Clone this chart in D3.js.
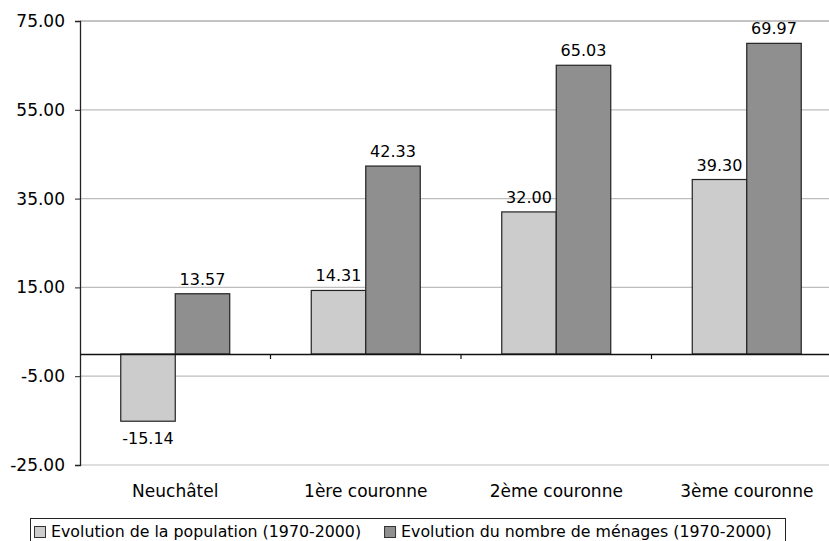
<!DOCTYPE html>
<html><head><meta charset="utf-8">
<script src="https://cdn.jsdelivr.net/npm/d3@7"></script>
<style>body{margin:0;background:#fff}svg{display:block}text{font-family:"DejaVu Sans",Verdana,sans-serif;fill:#000}</style>
</head><body><svg id="c" width="829" height="541"></svg>
<script>
const categories = ["Neuchâtel", "1ère couronne", "2ème couronne", "3ème couronne"];
const seriesNames = ["Evolution de la population (1970-2000)", "Evolution du nombre de ménages (1970-2000)"];
const population = [-15.14, 14.31, 32.00, 39.30];
const menages = [13.57, 42.33, 65.03, 69.97];
const yTicks = [75, 55, 35, 15, -5, -25];
const colors = ["#cccccc", "#8f8f8f"];

(function () {
const svg = d3.select("#c");
const pLeft = 80, pRight = 842, pTop = 21, pBottom = 465;
const x = d3.scaleBand().domain(categories).range([pLeft, pRight]).paddingInner(0).paddingOuter(0);
const y = d3.scaleLinear().domain([-25, 75]).range([pBottom, pTop]);
const inner = d3.scaleBand().domain([0, 1]).range([0, x.bandwidth()]).paddingInner(0).paddingOuter(0.748);

// gridlines
svg.append("g").selectAll("line").data(yTicks).join("line")
  .attr("x1", pLeft).attr("x2", pRight).attr("y1", d => y(d)).attr("y2", d => y(d))
  .attr("stroke", d => d === 75 ? "#8a8a8a" : "#bdbdbd").attr("stroke-width", 1.2);

// y axis
const yAxis = d3.axisLeft(y).tickValues(yTicks).tickFormat(d => d.toFixed(2)).tickSize(5).tickPadding(10);
const ya = svg.append("g").attr("transform", `translate(${pLeft},0)`).call(yAxis);
ya.select(".domain").attr("stroke", "#222").attr("stroke-width", 1.3);
ya.selectAll(".tick line").attr("stroke", "#222");
ya.selectAll(".tick text").style("font-size", "17px").attr("fill", "#000");

// bars
const data = categories.map((c, i) => ({c, vals: [population[i], menages[i]]}));
const g = svg.append("g");
data.forEach(d => {
  d.vals.forEach((v, s) => {
    const x0 = x(d.c) + inner(s);
    g.append("rect").attr("x", x0).attr("width", inner.bandwidth())
      .attr("y", y(Math.max(0, v))).attr("height", Math.abs(y(v) - y(0)))
      .attr("fill", colors[s]).attr("stroke", "#222").attr("stroke-width", 1.2);
    g.append("text").attr("x", x0 + inner.bandwidth() / 2)
      .attr("y", v >= 0 ? y(v) - 9 : y(v) + 22.5)
      .attr("text-anchor", "middle").style("font-size", "16px").text(v.toFixed(2));
  });
});

// x axis at zero
const xAxis = d3.axisBottom(x).tickSize(0).tickFormat("");
const xa = svg.append("g").attr("transform", `translate(0,${y(0)})`).call(xAxis);
xa.select(".domain").attr("stroke", "#111").attr("stroke-width", 1.5);
const bounds = categories.slice(1).map(c => x(c));
svg.append("g").selectAll("line").data(bounds).join("line")
  .attr("x1", d => d).attr("x2", d => d).attr("y1", y(0)).attr("y2", y(0) + 5).attr("stroke", "#111").attr("stroke-width", 1.2);
svg.append("g").selectAll("text").data(categories).join("text")
  .attr("x", d => x(d) + x.bandwidth() / 2).attr("y", 497).attr("text-anchor", "middle")
  .style("font-size", "17px").text(d => d);

// legend
const lg = svg.append("g");
lg.append("rect").attr("x", 30.5).attr("y", 518.5).attr("width", 755).attr("height", 40)
  .attr("fill", "#fff").attr("stroke", "#222").attr("stroke-width", 1);
let lx = 34;
seriesNames.forEach((n, i) => {
  lg.append("rect").attr("x", lx + 0.5).attr("y", 526.5).attr("width", 11).attr("height", 11)
    .attr("fill", colors[i]).attr("stroke", "#333");
  const t = lg.append("text").attr("x", lx + 17).attr("y", 537).style("font-size", "15.8px").text(n);
  lx += 17 + t.node().getComputedTextLength() + 23;
});
})();
</script></body></html>
